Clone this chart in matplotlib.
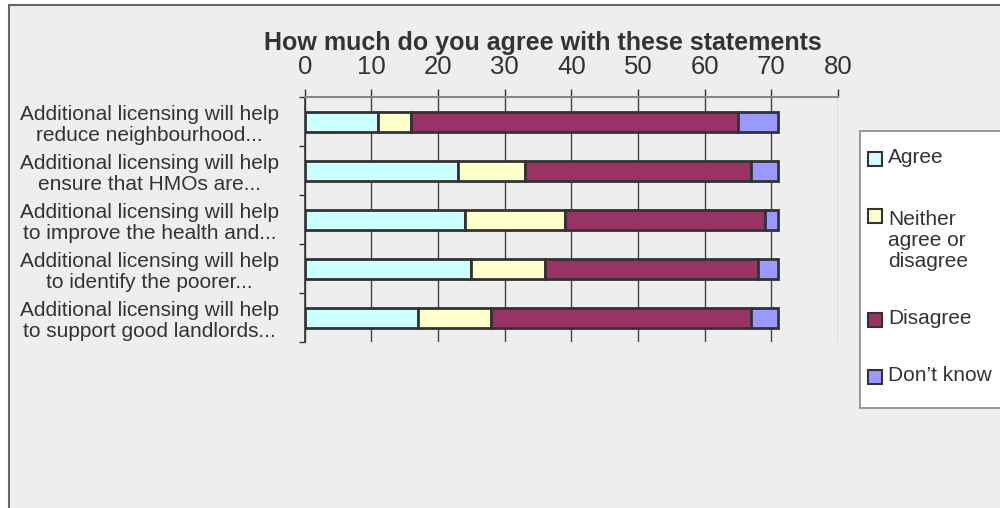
import matplotlib.pyplot as plt
import numpy as np
from matplotlib.patches import Rectangle

plt.rcParams["font.family"] = ["Liberation Sans", "DejaVu Sans"]

TITLE = "How much do you agree with these statements"

CATEGORIES = [
    "Additional licensing will help\nreduce neighbourhood...",
    "Additional licensing will help\nensure that HMOs are...",
    "Additional licensing will help\nto improve the health and...",
    "Additional licensing will help\nto identify the poorer...",
    "Additional licensing will help\nto support good landlords...",
]

SERIES_NAMES = ["Agree", "Neither\nagree or\ndisagree", "Disagree", "Don\u2019t know"]
SERIES_COLORS = ["#CCFFFF", "#FFFFCC", "#993366", "#9999FF"]

AGREE = [11, 23, 24, 25, 17]
NEITHER = [5, 10, 15, 11, 11]
DISAGREE = [49, 34, 30, 32, 39]
DONT_KNOW = [6, 4, 2, 3, 4]

X_TICKS = [0, 10, 20, 30, 40, 50, 60, 70, 80]

W, H = 1000, 508
TEXT = "#333333"


def fx(px):
    return px / W


def fy(py):
    return 1 - py / H


fig = plt.figure(figsize=(10, 5.08), dpi=100, facecolor="white")

# chart area background with its border (cut off at right / bottom)
fig.add_artist(Rectangle((fx(8.5), -0.1), 1.2, fy(5.5) + 0.1, transform=fig.transFigure,
                         facecolor="#EEEEEE", edgecolor="#666666", lw=1.5, zorder=-5))

ax = fig.add_axes([fx(304.7), fy(342.3), fx(838) - fx(304.7), fy(97.3) - fy(342.3)])
ax.set_facecolor("none")

y = np.arange(len(CATEGORIES))
left = np.zeros(len(CATEGORIES))
for values, name, color in zip([AGREE, NEITHER, DISAGREE, DONT_KNOW], SERIES_NAMES, SERIES_COLORS):
    ax.barh(y, values, left=left, height=0.4, color=color, edgecolor="#333333",
            linewidth=2.0, zorder=3, label=name)
    left += np.array(values)

ax.set_xlim(0, 80)
ax.set_ylim(len(CATEGORIES) - 0.5, -0.5)

ax.xaxis.tick_top()
ax.set_xticks(X_TICKS)
ax.tick_params(axis="x", direction="out", length=6, width=1, color="#333333",
               labelsize=18.5, labelcolor=TEXT, pad=7)
ax.xaxis.grid(True, color="#444444", lw=1, zorder=1)
ax.get_xgridlines()[-1].set_color("#888888")

ax.set_yticks(y)
ax.set_yticklabels(CATEGORIES)
ax.set_yticks(np.arange(len(CATEGORIES) + 1) - 0.5, minor=True)
ax.tick_params(axis="y", which="major", length=0, labelsize=15, labelcolor=TEXT, pad=18.5)
ax.tick_params(axis="y", which="minor", length=4.3, width=1, color="#333333")
for lab in ax.get_yticklabels():
    lab.set_multialignment("center")
    lab.set_linespacing(1.15)

for side in ["bottom", "right"]:
    ax.spines[side].set_visible(False)
ax.spines["top"].set_color("#888888")
ax.spines["top"].set_linewidth(1.5)
ax.spines["left"].set_color("#333333")
ax.spines["left"].set_linewidth(1.2)

fig.text(fx(543), fy(49.8), TITLE, ha="center", va="baseline", fontsize=18,
         fontweight="bold", color=TEXT)

# legend box on the right, running off the edge of the chart
fig.add_artist(Rectangle((fx(860), fy(407.7)), 0.2, fy(130.7) - fy(407.7), transform=fig.transFigure,
                         facecolor="white", edgecolor="#888888", lw=1.2, zorder=5))
line_step = 23.5
baseline = 163.3
for name, color in zip(SERIES_NAMES, SERIES_COLORS):
    n_lines = name.count("\n") + 1
    fig.add_artist(Rectangle((fx(868), fy(baseline + 3)), fx(13.5), fy(baseline - 11) - fy(baseline + 3),
                             transform=fig.transFigure, facecolor=color, edgecolor="#333333",
                             lw=1.5, zorder=6))
    last_baseline = baseline + (n_lines - 1) * line_step
    fig.text(fx(888), fy(last_baseline), name, ha="left", va="baseline", fontsize=15,
             color=TEXT, linespacing=1.13, zorder=6)
    baseline = last_baseline + 57

fig.savefig("out.png", dpi=100, facecolor=fig.get_facecolor())
